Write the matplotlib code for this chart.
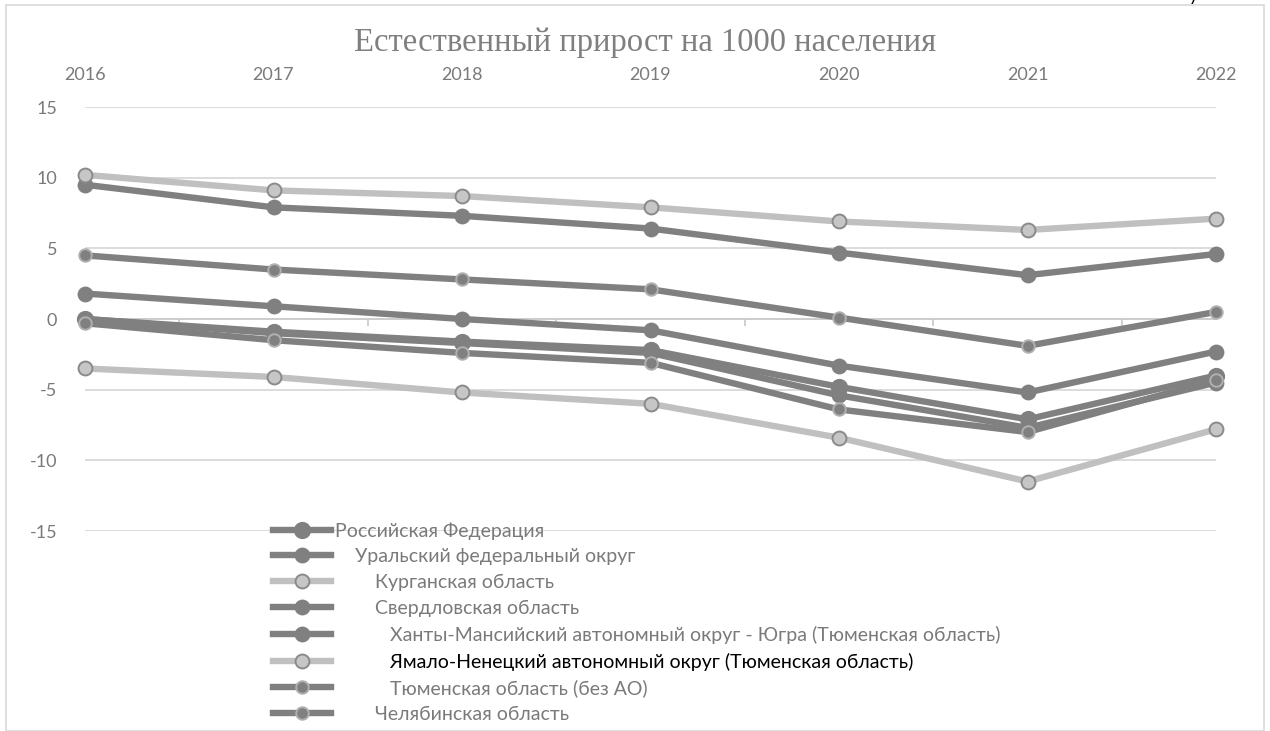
import numpy as np
import matplotlib
matplotlib.use('Agg')
import matplotlib.pyplot as plt
from matplotlib.patches import Rectangle

years = [2016, 2017, 2018, 2019, 2020, 2021, 2022]

rf = [0.0, -0.9, -1.6, -2.2, -4.8, -7.1, -4.0]
ufo = [1.8, 0.9, 0.0, -0.8, -3.3, -5.2, -2.3]
kurgan = [-3.5, -4.1, -5.2, -6.0, -8.4, -11.5, -7.8]
sverd = [0.0, -1.0, -1.7, -2.4, -5.4, -7.7, -4.5]
khmao = [9.5, 7.9, 7.3, 6.4, 4.7, 3.1, 4.6]
yanao = [10.2, 9.1, 8.7, 7.9, 6.9, 6.3, 7.1]
tyumen = [4.5, 3.5, 2.8, 2.1, 0.1, -1.9, 0.5]
chel = [-0.3, -1.5, -2.4, -3.1, -6.4, -8.0, -4.3]

labels = [
    'Российская Федерация',
    '    Уральский федеральный округ',
    '        Курганская область',
    '        Свердловская область',
    '           Ханты-Мансийский автономный округ - Югра (Тюменская область)',
    '           Ямало-Ненецкий автономный округ (Тюменская область)',
    '           Тюменская область (без АО)',
    '        Челябинская область',
]

DARK = '#808080'
LIGHT = '#c0c0c0'
TXT = '#7a7a7a'

# (values, line colour, marker face, marker edge, marker size)
series = [
    (rf, DARK, DARK, DARK, 11),
    (ufo, DARK, DARK, DARK, 10),
    (kurgan, LIGHT, '#c6c6c6', '#8a8a8a', 10),
    (sverd, DARK, DARK, DARK, 10),
    (khmao, DARK, DARK, DARK, 10),
    (yanao, LIGHT, '#c6c6c6', '#8a8a8a', 10),
    (tyumen, DARK, DARK, '#b0b0b0', 9),
    (chel, DARK, DARK, '#b0b0b0', 9),
]

plt.rcParams['font.family'] = ['Lato', 'DejaVu Sans']

W, H = 1270, 731
fig = plt.figure(figsize=(W / 100, H / 100), dpi=100)
fig.patches.append(Rectangle((6 / W, 0), (1264 - 6) / W, (H - 5) / H,
                             transform=fig.transFigure, fill=False,
                             edgecolor='#d9d9d9', lw=1.2))

ax = fig.add_axes([85 / W, (H - 531) / H, (1216 - 85) / W, (531 - 107) / H])
ax.set_xlim(2016, 2022)
ax.set_ylim(-15, 15)

for y in [-15, -10, -5, 5, 10, 15]:
    ax.axhline(y, color='#d9d9d9', lw=1.3, zorder=0)

for spine in ['top', 'left', 'right']:
    ax.spines[spine].set_visible(False)
ax.spines['bottom'].set_position(('data', 0))
ax.spines['bottom'].set_color('#c8c8c8')
ax.spines['bottom'].set_linewidth(1.3)
ax.spines['bottom'].set_zorder(0)
ax.set_xticks([y + 0.5 for y in years[:-1]])
ax.tick_params(axis='x', direction='out', length=5, width=1.2,
               color='#c8c8c8', labelbottom=False)

ax.set_yticks([-15, -10, -5, 0, 5, 10, 15])
ax.set_yticklabels(['-15', '-10', '-5', '0', '5', '10', '15'])
ax.tick_params(axis='y', length=0, pad=20, labelsize=13, labelcolor=TXT)

top = ax.secondary_xaxis('top')
top.set_xticks(years)
top.set_xticklabels([str(y) for y in years])
top.tick_params(length=0, pad=17, labelsize=13, labelcolor=TXT)
top.spines['top'].set_visible(False)

handles = []
for (vals, lc, mf, me, ms), lab in zip(series, labels):
    h, = ax.plot(years, vals, color=lc, lw=4.6, marker='o', ms=ms,
                 markerfacecolor=mf, markeredgecolor=me, markeredgewidth=1.4,
                 clip_on=False, label=lab, solid_joinstyle='round')
    handles.append(h)

leg = ax.legend(handles=handles, loc='upper left',
                bbox_to_anchor=(273 / W, 1 - 522 / H),
                bbox_transform=fig.transFigure, frameon=False,
                fontsize=14, handlelength=3.0, handletextpad=0.2,
                labelspacing=0.45, borderpad=0, borderaxespad=0)
for i, t in enumerate(leg.get_texts()):
    t.set_color('black' if i == 5 else TXT)

fig.text(645 / W, 1 - 43 / H, 'Естественный прирост на 1000 населения',
         ha='center', va='center', fontsize=23.5, color='#7f7f7f',
         family='Liberation Serif')

fig.text(1193 / W, 1 - 1 / H, 'у', ha='center', va='baseline',
         fontsize=13, color='black')

fig.savefig('out.png', dpi=100)
